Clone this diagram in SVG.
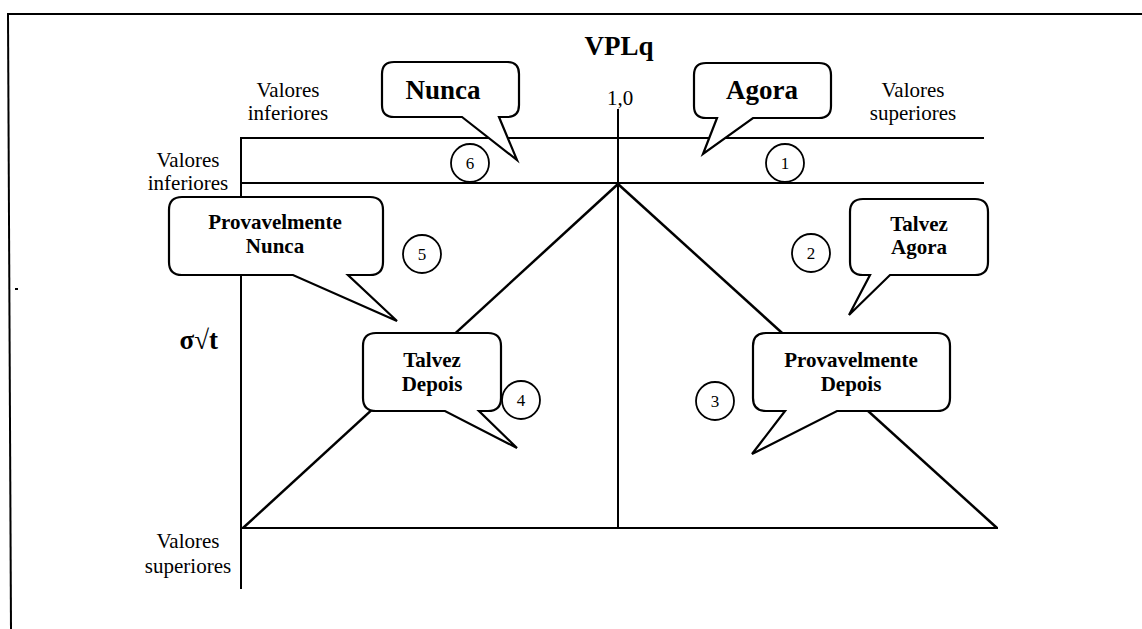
<svg xmlns="http://www.w3.org/2000/svg" width="1142" height="629" viewBox="0 0 1142 629">
  <style>
    .ln { stroke: #000; stroke-width: 2; fill: none; stroke-linecap: square; }
    .diag { stroke: #000; stroke-width: 2.5; fill: none; }
    .callout { fill: #fff; stroke: #000; stroke-width: 2.2; stroke-linejoin: miter; }
    .num { fill: #fff; stroke: #000; stroke-width: 1.8; }
    .lbl { font-family: "Liberation Serif", "Times New Roman", serif; font-size: 21px; fill: #000; text-anchor: middle; }
    .big { font-family: "Liberation Serif", "Times New Roman", serif; font-size: 27px; font-weight: bold; fill: #000; text-anchor: middle; }
    .ctext { font-family: "Liberation Serif", "Times New Roman", serif; font-size: 21px; font-weight: bold; fill: #000; text-anchor: middle; }
    .ntext { font-family: "Liberation Serif", "Times New Roman", serif; font-size: 17px; fill: #000; text-anchor: middle; }
  </style>

  <rect width="1142" height="629" fill="#fff"/>

  <!-- frame -->
  <g id="frame">
    <line class="ln" x1="8" y1="14" x2="1142" y2="14"/>
    <line class="ln" x1="8" y1="14" x2="11" y2="629"/>
    <line stroke="#000" stroke-width="2" x1="15" y1="289" x2="18" y2="289"/>
  </g>

  <!-- axes, bands and triangle -->
  <g id="connectors">
    <line class="ln" x1="241" y1="138" x2="983" y2="138"/>
    <line class="ln" x1="241" y1="183" x2="983" y2="183"/>
    <line class="ln" x1="241" y1="138" x2="241" y2="588"/>
    <line class="ln" x1="618" y1="110" x2="618" y2="528"/>
    <line class="ln" x1="241" y1="528" x2="997" y2="528"/>
    <line class="diag" x1="618" y1="184" x2="243" y2="528"/>
    <line class="diag" x1="618" y1="184" x2="997" y2="528"/>
  </g>

  <!-- axis labels -->
  <g id="label-vplq"><text class="big" x="619" y="55">VPLq</text></g>
  <g id="label-one"><text class="lbl" x="620" y="105" font-size="20">1,0</text></g>
  <g id="label-top-left">
    <text class="lbl" x="288" y="97">Valores</text>
    <text class="lbl" x="288" y="120">inferiores</text>
  </g>
  <g id="label-top-right">
    <text class="lbl" x="913" y="97">Valores</text>
    <text class="lbl" x="913" y="120">superiores</text>
  </g>
  <g id="label-left-top">
    <text class="lbl" x="188" y="167">Valores</text>
    <text class="lbl" x="188" y="190">inferiores</text>
  </g>
  <g id="label-left-bottom">
    <text class="lbl" x="188" y="548">Valores</text>
    <text class="lbl" x="188" y="573">superiores</text>
  </g>
  <g id="label-sigma">
    <text x="218" y="349" text-anchor="end" font-family="'Liberation Serif', 'Times New Roman', serif" font-size="27" font-weight="bold">σ√t</text>
  </g>

  <!-- callouts -->
  <g id="callout-nunca">
    <path class="callout" d="M394,62 H507 Q519,62 519,74 V105 Q519,117 507,117 H499 L517,160 L462,117 H394 Q382,117 382,105 V74 Q382,62 394,62 Z"/>
    <text class="big" x="443" y="99">Nunca</text>
  </g>
  <g id="callout-agora">
    <path class="callout" d="M706,63 H819 Q831,63 831,75 V106 Q831,118 819,118 H753 L703,154 L717,118 H706 Q694,118 694,106 V75 Q694,63 706,63 Z"/>
    <text class="big" x="762" y="99">Agora</text>
  </g>
  <g id="callout-provavelmente-nunca">
    <path class="callout" d="M182,197 H370 Q383,197 383,210 V262 Q383,275 370,275 H348 L397,321 L293,275 H182 Q169,275 169,262 V210 Q169,197 182,197 Z"/>
    <text class="ctext" x="275" y="229">Provavelmente</text>
    <text class="ctext" x="275" y="253">Nunca</text>
  </g>
  <g id="callout-talvez-agora">
    <path class="callout" d="M863,199 H975 Q988,199 988,212 V262 Q988,275 975,275 H890 L849,315 L870,275 H863 Q850,275 850,262 V212 Q850,199 863,199 Z"/>
    <text class="ctext" x="919" y="231">Talvez</text>
    <text class="ctext" x="919" y="254">Agora</text>
  </g>
  <g id="callout-talvez-depois">
    <path class="callout" d="M376,333 H488 Q501,333 501,346 V398 Q501,411 488,411 H479 L517,448 L445,411 H376 Q363,411 363,398 V346 Q363,333 376,333 Z"/>
    <text class="ctext" x="432" y="367">Talvez</text>
    <text class="ctext" x="432" y="391">Depois</text>
  </g>
  <g id="callout-provavelmente-depois">
    <path class="callout" d="M766,333 H937 Q950,333 950,346 V398 Q950,411 937,411 H837 L752,454 L785,411 H766 Q753,411 753,398 V346 Q753,333 766,333 Z"/>
    <text class="ctext" x="851" y="367">Provavelmente</text>
    <text class="ctext" x="851" y="391">Depois</text>
  </g>

  <!-- numbered zones -->
  <g id="zone-1"><ellipse class="num" cx="785" cy="163" rx="19" ry="19"/><text class="ntext" x="785" y="169">1</text></g>
  <g id="zone-2"><ellipse class="num" cx="811" cy="253" rx="19" ry="19"/><text class="ntext" x="811" y="259">2</text></g>
  <g id="zone-3"><ellipse class="num" cx="715" cy="401" rx="19" ry="19"/><text class="ntext" x="715" y="407">3</text></g>
  <g id="zone-4"><ellipse class="num" cx="521" cy="400" rx="19" ry="19"/><text class="ntext" x="521" y="406" font-family="'Liberation Sans', Arial, sans-serif" font-size="16">4</text></g>
  <g id="zone-5"><ellipse class="num" cx="422" cy="254" rx="19" ry="19"/><text class="ntext" x="422" y="260">5</text></g>
  <g id="zone-6"><ellipse class="num" cx="470" cy="163" rx="19" ry="19"/><text class="ntext" x="470" y="169">6</text></g>
</svg>
